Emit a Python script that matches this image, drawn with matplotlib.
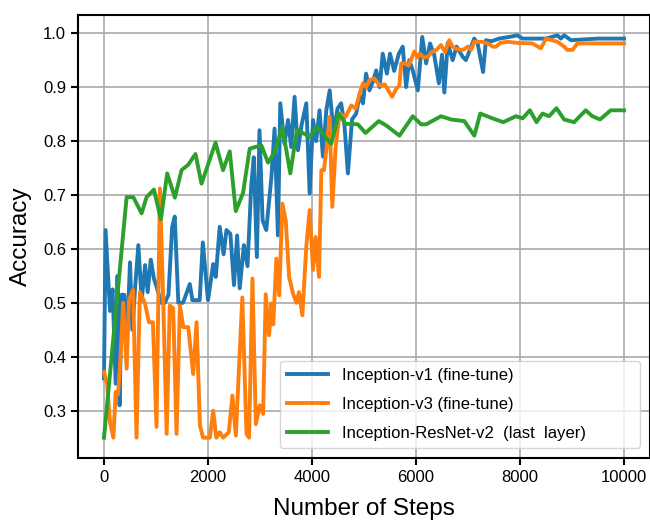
import numpy as np
import matplotlib
matplotlib.use('Agg')
import matplotlib.pyplot as plt

plt.rcParams['font.family'] = ['Liberation Sans', 'DejaVu Sans']

# Inception-v1 (fine-tune)
v1_steps = [0, 30, 115, 165, 225, 260, 300, 340, 390, 450, 500, 545, 600, 660, 725,
            790, 840, 900, 960, 1010, 1100, 1170, 1240, 1310, 1360, 1430, 1520, 1650,
            1700, 1840, 1900, 2000, 2100, 2150, 2225, 2300, 2355, 2430, 2500, 2560,
            2610, 2690, 2760, 2830, 2880, 2940, 2990, 3050, 3120, 3170, 3220, 3280,
            3345, 3390, 3470, 3540, 3600, 3665, 3730, 3800, 3890, 3955, 4020, 4080,
            4145, 4210, 4275, 4340, 4415, 4490, 4560, 4625, 4690, 4770, 4850, 4915,
            4980, 5040, 5105, 5170, 5235, 5300, 5360, 5440, 5500, 5580, 5670, 5745,
            5810, 5870, 5940, 6035, 6120, 6195, 6270, 6350, 6440, 6500, 6545, 6610,
            6705, 6780, 6900, 6960, 7040, 7120, 7185, 7290, 7345, 7450, 7600, 7790,
            7950, 8050, 8300, 8500, 8720, 8785, 8850, 8980, 9500, 10000]
v1_acc = [0.36, 0.635, 0.485, 0.525, 0.35, 0.55, 0.31, 0.515, 0.515, 0.45, 0.575, 0.45,
          0.53, 0.607, 0.505, 0.57, 0.52, 0.58, 0.545, 0.53, 0.50, 0.50, 0.515, 0.64,
          0.66, 0.50, 0.50, 0.535, 0.505, 0.505, 0.612, 0.505, 0.572, 0.548, 0.641,
          0.59, 0.635, 0.628, 0.533, 0.625, 0.527, 0.607, 0.568, 0.715, 0.77, 0.585,
          0.82, 0.653, 0.635, 0.684, 0.734, 0.823, 0.625, 0.87, 0.795, 0.839, 0.789,
          0.882, 0.783, 0.83, 0.87, 0.703, 0.839, 0.80, 0.857, 0.771, 0.857, 0.894,
          0.814, 0.86, 0.87, 0.829, 0.74, 0.84, 0.851, 0.885, 0.87, 0.925, 0.894,
          0.91, 0.931, 0.90, 0.962, 0.925, 0.962, 0.93, 0.962, 0.975, 0.90, 0.95,
          0.93, 0.894, 0.993, 0.944, 0.981, 0.96, 0.907, 0.96, 0.89, 0.982, 0.95,
          0.975, 0.956, 0.95, 0.97, 0.99, 0.981, 0.928, 0.987, 0.985, 0.99, 0.993,
          0.996, 0.99, 0.99, 0.99, 0.996, 0.99, 0.996, 0.987, 0.99, 0.99]

# Inception-v3 (fine-tune)
v3_steps = [0, 60, 115, 180, 225, 270, 310, 370, 435, 480, 560, 625, 690, 785, 865,
            940, 1010, 1075, 1140, 1205, 1265, 1330, 1395, 1460, 1525, 1620, 1715,
            1780, 1845, 1905, 2035, 2100, 2160, 2225, 2290, 2400, 2470, 2535, 2660,
            2740, 2790, 2855, 2920, 2995, 3060, 3110, 3175, 3220, 3255, 3315, 3370,
            3430, 3495, 3560, 3635, 3700, 3750, 3815, 3890, 3955, 4020, 4070, 4135,
            4180, 4230, 4275, 4340, 4390, 4455, 4530, 4645, 4755, 4840, 4915, 4980,
            5040, 5105, 5200, 5300, 5400, 5540, 5620, 5680, 5715, 5780, 5860, 5970,
            6030, 6070, 6150, 6230, 6300, 6390, 6480, 6560, 6640, 6700, 6800, 6900,
            7000, 7060, 7120, 7280, 7400, 7475, 7540, 7620, 7760, 7950, 8240, 8400,
            8500, 8720, 8850, 8910, 9010, 9105, 10000]
v3_acc = [0.372, 0.35, 0.279, 0.25, 0.335, 0.33, 0.387, 0.50, 0.378, 0.505, 0.524,
          0.25, 0.52, 0.50, 0.464, 0.464, 0.27, 0.712, 0.50, 0.257, 0.495, 0.49,
          0.257, 0.495, 0.455, 0.455, 0.368, 0.464, 0.273, 0.25, 0.25, 0.30, 0.25,
          0.26, 0.25, 0.26, 0.328, 0.254, 0.51, 0.257, 0.25, 0.545, 0.275, 0.31,
          0.294, 0.516, 0.44, 0.499, 0.46, 0.582, 0.514, 0.684, 0.653, 0.548, 0.517,
          0.50, 0.52, 0.477, 0.604, 0.672, 0.561, 0.622, 0.548, 0.746, 0.746, 0.783,
          0.845, 0.678, 0.789, 0.851, 0.845, 0.866, 0.86, 0.888, 0.907, 0.90, 0.913,
          0.916, 0.903, 0.905, 0.882, 0.897, 0.903, 0.944, 0.944, 0.94, 0.966, 0.955,
          0.962, 0.955, 0.956, 0.965, 0.969, 0.978, 0.965, 0.987, 0.975, 0.97, 0.969,
          0.975, 0.969, 0.984, 0.984, 0.98, 0.975, 0.975, 0.982, 0.984, 0.982, 0.981,
          0.972, 0.99, 0.984, 0.975, 0.969, 0.969, 0.981, 0.981]

# Inception-ResNet-v2 (last layer)
rn_steps = [0, 435, 563, 723, 819, 960, 1094, 1215, 1363, 1491, 1619, 1760, 1875,
            2144, 2290, 2418, 2534, 2674, 2802, 3027, 3154, 3282, 3429, 3583, 3710,
            3954, 4094, 4370, 4516, 4645, 4881, 5029, 5284, 5426, 5681, 5937, 6098,
            6194, 6482, 6673, 6929, 7121, 7236, 7473, 7678, 7921, 8049, 8190, 8317,
            8433, 8560, 8701, 8848, 9040, 9264, 9392, 9539, 9744, 10000]
rn_acc = [0.25, 0.696, 0.696, 0.666, 0.696, 0.71, 0.655, 0.74, 0.695, 0.746, 0.756,
          0.776, 0.721, 0.797, 0.746, 0.781, 0.67, 0.704, 0.786, 0.792, 0.76, 0.78,
          0.826, 0.74, 0.821, 0.808, 0.826, 0.795, 0.851, 0.832, 0.831, 0.815, 0.837,
          0.829, 0.81, 0.846, 0.831, 0.831, 0.846, 0.84, 0.837, 0.81, 0.851, 0.842,
          0.835, 0.846, 0.842, 0.857, 0.835, 0.851, 0.846, 0.861, 0.84, 0.835, 0.857,
          0.846, 0.84, 0.857, 0.857]

fig = plt.figure(figsize=(6.5, 5.25), dpi=100)
ax = fig.add_axes([0.12, 0.128, 0.88, 0.843])

ax.plot(v1_steps, v1_acc, color='#1f77b4', lw=2.8, label='Inception-v1 (fine-tune)')
ax.plot(v3_steps, v3_acc, color='#ff7f0e', lw=2.8, label='Inception-v3 (fine-tune)')
ax.plot(rn_steps, rn_acc, color='#2ca02c', lw=2.8, label='Inception-ResNet-v2  (last  layer)')

ax.set_xlim(-500, 10500)
ax.set_xticks([0, 2000, 4000, 6000, 8000, 10000])
ax.set_yticks([0.3, 0.4, 0.5, 0.6, 0.7, 0.8, 0.9, 1.0])
ax.grid(True, color='#b0b0b0', lw=1.3)
ax.set_axisbelow(True)
for s in ax.spines.values():
    s.set_linewidth(1.5)
ax.tick_params(direction='out', length=5, width=1.5, labelsize=12)

ax.set_xlabel('Number of Steps', fontsize=17.5, labelpad=10)
ax.set_ylabel('Accuracy', fontsize=17.5, labelpad=8)
ax.legend(loc='lower left', bbox_to_anchor=(0.353, 0.0226, 0.63, 0.2), mode='expand',
          borderaxespad=0, fontsize=12, handlelength=2.5, labelspacing=0.85)

fig.savefig('out.png', dpi=100)
